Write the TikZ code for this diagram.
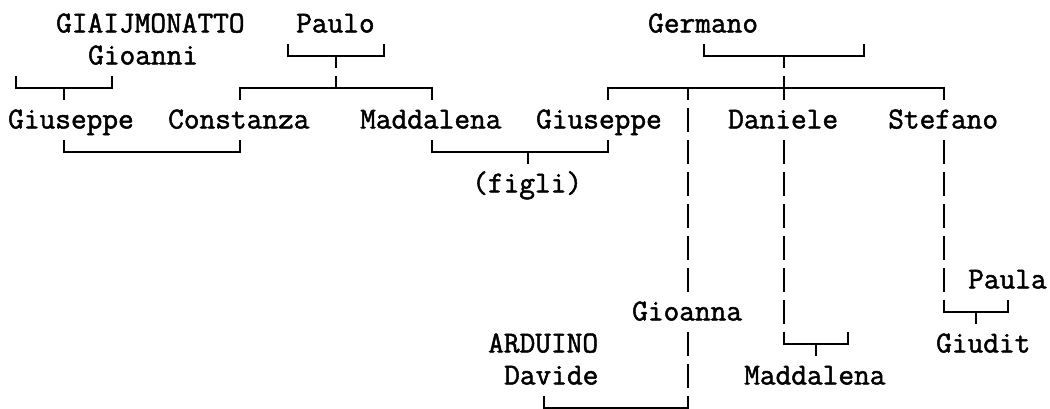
\documentclass[tikz,border=0pt]{standalone}
\usepackage{fontspec}
\setmonofont[FakeBold=1.6]{Latin Modern Mono}
\begin{document}
\begin{tikzpicture}[x=16pt,y=-32pt,
  txt/.style={font=\ttfamily\fontsize{30.48pt}{32pt}\selectfont, inner sep=0pt, anchor=base west, text=black},
  ln/.style={line width=2pt, black},
  vln/.style={ln, dash pattern=on 24pt off 8pt}]
\useasboundingbox (-1,-0.734375) rectangle (64.625,12.015625);
% names
\node[txt] (giaij)      at (2.5,0.28)   {GIAIJMONATTO};
\node[txt] (paulo)      at (17.5,0.28)  {Paulo};
\node[txt] (germano)    at (39.5,0.28)  {Germano};
\node[txt] (gioanni)    at (4.5,1.28)   {Gioanni};
\node[txt] (giuseppeA)  at (-0.5,3.28)  {Giuseppe};
\node[txt] (constanza)  at (9.5,3.28)   {Constanza};
\node[txt] (maddalenaA) at (21.5,3.28)  {Maddalena};
\node[txt] (giuseppeB)  at (32.5,3.28)  {Giuseppe};
\node[txt] (daniele)    at (44.5,3.28)  {Daniele};
\node[txt] (stefano)    at (54.5,3.28)  {Stefano};
\node[txt] (figli)      at (28.5,5.28)  {(figli)};
\node[txt] (paula)      at (59.5,8.28)  {Paula};
\node[txt] (gioanna)    at (38.5,9.28)  {Gioanna};
\node[txt] (arduino)    at (29.5,10.28) {ARDUINO};
\node[txt] (giudit)     at (57.5,10.28) {Giudit};
\node[txt] (davide)     at (30.5,11.28) {Davide};
\node[txt] (maddalenaB) at (45.5,11.28) {Maddalena};
% joints
\coordinate (gA) at (0,2);  \coordinate (gB) at (6,2);  \coordinate (gM) at (3,2);
\coordinate (pA) at (17,1); \coordinate (pB) at (23,1); \coordinate (pM) at (20,1);
\coordinate (pc1) at (14,2); \coordinate (pc2) at (26,2); \coordinate (pJ) at (20,2);
\coordinate (gmA) at (43,1); \coordinate (gmB) at (53,1); \coordinate (gmM) at (48,1);
\coordinate (gc1) at (37,2); \coordinate (gc2) at (42,2); \coordinate (gJ) at (48,2); \coordinate (gc3) at (58,2);
\coordinate (g42end) at (42,8.375); \coordinate (g42b) at (42,9.625);
\coordinate (d0) at (33,12); \coordinate (d1) at (42,12);
\coordinate (e0) at (48,3.625); \coordinate (eA) at (48,10); \coordinate (eB) at (52,10); \coordinate (eM) at (50,10);
\coordinate (s0) at (58,3.625); \coordinate (sA) at (58,9); \coordinate (sB) at (62,9); \coordinate (sM) at (60,9);
\coordinate (mA) at (3,4); \coordinate (mB) at (14,4);
\coordinate (nA) at (26,4); \coordinate (nB) at (37,4); \coordinate (nM) at (32,4);
% GIAIJMONATTO bracket
\draw[ln] ([yshift=12pt]gA) -- (gA) -- (gB) -- ([yshift=12pt]gB);
\draw[ln] (gM) -- ([yshift=-12pt]gM);
% Paulo
\draw[ln] ([yshift=12pt]pA) -- (pA) -- (pB) -- ([yshift=12pt]pB);
\draw[vln, dash phase=12pt] (pM) -- (pJ);
\draw[ln] ([yshift=-12pt]pc1) -- (pc1) -- (pc2) -- ([yshift=-12pt]pc2);
% Germano
\draw[ln] ([yshift=12pt]gmA) -- (gmA) -- (gmB) -- ([yshift=12pt]gmB);
\draw[vln, dash phase=12pt] (gmM) -- ([yshift=-12pt]gJ);
\draw[ln] ([yshift=-12pt]gc1) -- (gc1) -- (gc3) -- ([yshift=-12pt]gc3);
% column 42
\draw[vln, dash phase=12pt] (gc2) -- (g42end);
\draw[vln] (g42b) -- (d1);
\draw[ln] ([yshift=12pt]d0) -- (d0) -- (d1) -- ([yshift=12pt]d1);
% Daniele
\draw[vln] (e0) -- (eA);
\draw[ln] ([yshift=12pt]eA) -- (eA) -- (eB) -- ([yshift=12pt]eB);
\draw[ln] (eM) -- ([yshift=-12pt]eM);
% Stefano
\draw[vln] (s0) -- (sA);
\draw[ln] ([yshift=12pt]sA) -- (sA) -- (sB) -- ([yshift=12pt]sB);
\draw[ln] (sM) -- ([yshift=-12pt]sM);
% row 4 brackets
\draw[ln] ([yshift=12pt]mA) -- (mA) -- (mB) -- ([yshift=12pt]mB);
\draw[ln] ([yshift=12pt]nA) -- (nA) -- (nB) -- ([yshift=12pt]nB);
\draw[ln] (nM) -- ([yshift=-12pt]nM);
\end{tikzpicture}
\end{document}
